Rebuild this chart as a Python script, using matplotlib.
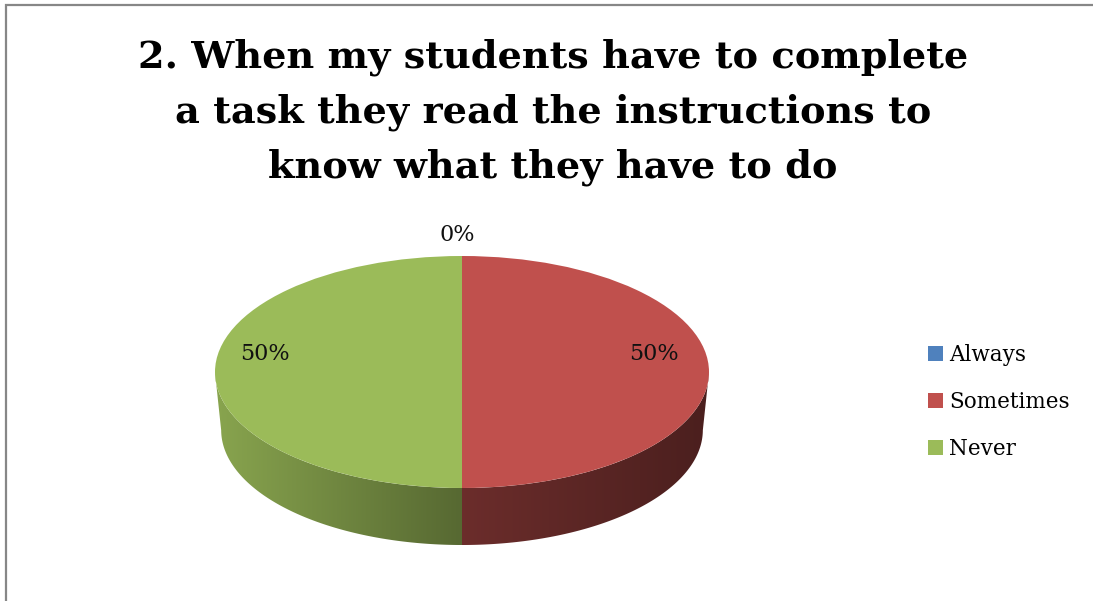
import numpy as np
import matplotlib
matplotlib.use("Agg")
import matplotlib.pyplot as plt
from matplotlib.patches import Polygon, Rectangle
from matplotlib.colors import to_rgb

# ---- data ----
categories = ["Always", "Sometimes", "Never"]
values = [0, 50, 50]
colors = ["#4F81BD", "#C0504D", "#9BBB59"]
title = "2. When my students have to complete\na task they read the instructions to\nknow what they have to do"

W, H, DPI = 1093, 601, 100
fig = plt.figure(figsize=(W / DPI, H / DPI), dpi=DPI)
fig.patch.set_facecolor("white")

def fx(px):
    return px / W

def fy(py):
    return 1 - py / H

# outer chart border (top and left visible)
fig.patches.append(Rectangle((fx(6), fy(640)), fx(1200), (640 - 5) / H,
                             transform=fig.transFigure, fill=False,
                             edgecolor="#878787", linewidth=1.6))

# pie axes: top ellipse rx=247px, ry=116px, centre (462,372); bottom at 545
cx, cy, rx, ry = 462, 372, 247, 116
depth = 0.50          # side depth in y-radius units
bscale = 0.975        # perspective shrink of the bottom rim
ybot = 545
ax = fig.add_axes([fx(cx - rx), fy(ybot), 2 * rx / W, (ybot - (cy - ry)) / H])
wedges, _ = ax.pie(values, colors=colors, startangle=90, counterclock=False,
                   wedgeprops=dict(linewidth=0, zorder=3))
ax.set_aspect("auto")
ylow = -(ybot - cy) / ry
ax.set_xlim(-1, 1)
ax.set_ylim(ylow, 1)
ax.axis("off")

# side walls derived from the wedge angles
for w, c in zip(wedges, colors):
    t1, t2 = w.theta1, w.theta2
    if t2 - t1 <= 0:
        continue
    th = np.radians(np.linspace(t1, t2, 600))
    m = np.sin(th) <= 1e-9
    if m.sum() < 2:
        continue
    th = th[m]
    xt, yt = np.cos(th), np.sin(th)
    xb = np.cos(th) * bscale
    yb = np.sin(th) * (-ylow - depth) - depth
    pts = np.vstack([np.column_stack([xt, yt]), np.column_stack([xb, yb])[::-1]])
    poly = Polygon(pts, closed=True, facecolor="none", edgecolor="none")
    ax.add_patch(poly)
    x0, x1 = pts[:, 0].min(), pts[:, 0].max()
    xs = np.linspace(x0, x1, 256)
    # lighting: bright at left, dark at right
    f = np.interp(xs, [-1, 0, 1], [0.88, 0.56, 0.39])
    base = np.array(to_rgb(c))
    img = (f[:, None] * base[None, :])[None, :, :]
    im = ax.imshow(img, extent=[x0, x1, ylow, 0.05], aspect="auto",
                   interpolation="bilinear", zorder=2)
    im.set_clip_path(poly)

ax.set_xlim(-1, 1)
ax.set_ylim(ylow, 1)

# percentage labels
total = sum(values)
label_pos = [(457, 235), (654, 354), (265, 354)]
for v, (px, py) in zip(values, label_pos):
    fig.text(fx(px), fy(py), f"{v / total * 100:.0f}%", ha="center", va="center",
             fontsize=16, family="DejaVu Serif", color="#111111")

# title
fig.text(fx(553), fy(112.5), title, ha="center", va="center", fontsize=27.5,
         fontweight="bold", family="DejaVu Serif", linespacing=1.6)

# legend
leg = fig.legend(wedges, categories, loc="center left",
                 bbox_to_anchor=(fx(909), fy(402)), frameon=False,
                 prop=dict(family="DejaVu Serif", size=15.5),
                 handlelength=0.66, handleheight=0.66, handletextpad=0.3,
                 labelspacing=1.16)

fig.savefig("out.png", dpi=DPI, facecolor="white")
